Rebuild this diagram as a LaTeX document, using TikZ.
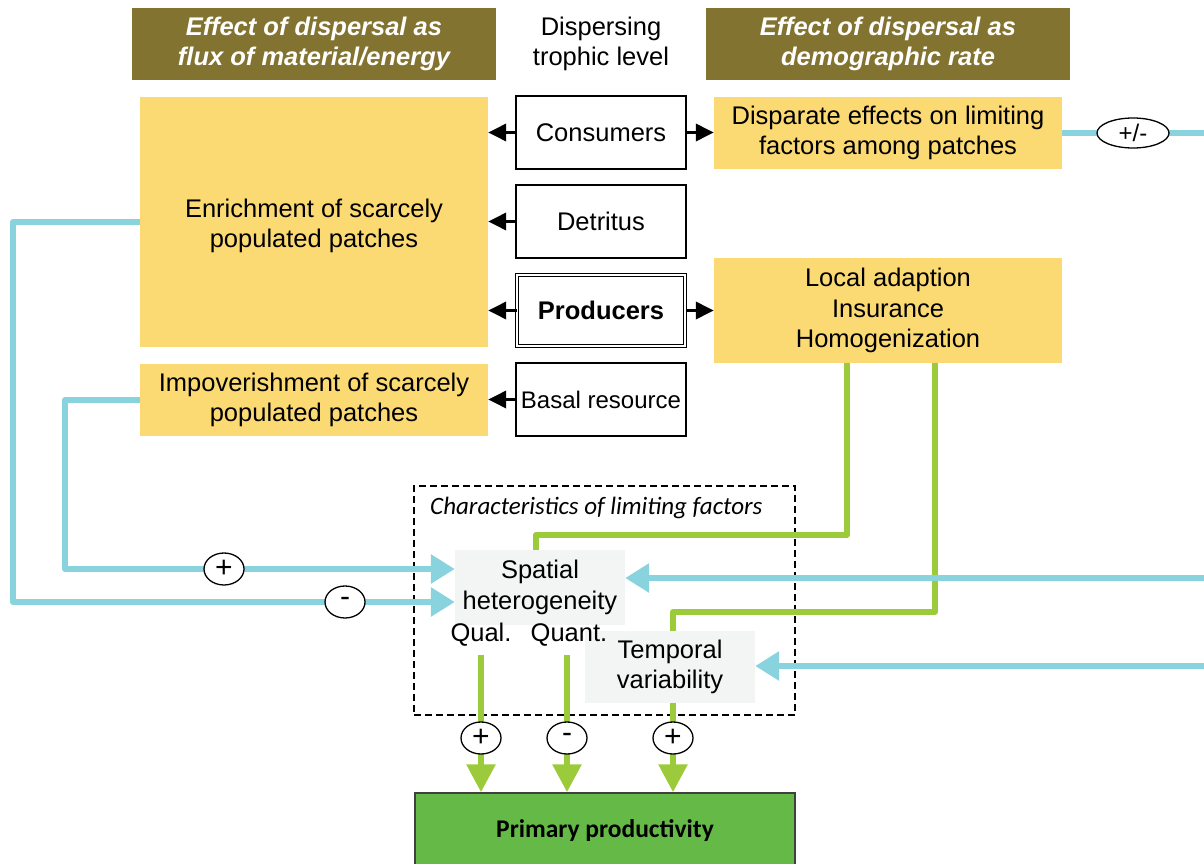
\documentclass[tikz,border=0pt]{standalone}
\usepackage{fontspec}
\setmainfont{Liberation Sans}
\newfontfamily\calib{Carlito}
\usetikzlibrary{arrows.meta,shapes.geometric}
\definecolor{hdrbrown}{RGB}{131,115,48}
\definecolor{yel}{RGB}{251,218,116}
\definecolor{bluel}{RGB}{137,211,223}
\definecolor{greenl}{RGB}{155,203,59}
\definecolor{ppgreen}{RGB}{101,186,71}
\definecolor{grayb}{RGB}{243,245,244}
\begin{document}
\begin{tikzpicture}[x=1pt,y=-1pt,
  every node/.style={font=\fontsize{25.5}{30.5}\selectfont, align=center, inner sep=0pt},
  hdr/.style={fill=hdrbrown, text=white, font=\fontsize{25.5}{30.5}\selectfont\bfseries\itshape, minimum width=364, minimum height=72},
  tbox/.style={draw, line width=2.2pt, fill=white, minimum width=170, minimum height=73},
  ybox/.style={fill=yel, minimum width=348},
  gbox/.style={fill=grayb, minimum width=170},
  barrow/.style={line width=3.5pt, -{Triangle[length=18pt,width=17pt]}},
  bline/.style={draw=bluel, line width=6pt},
  barr/.style={bline, -{Triangle[length=24pt,width=28pt]}, color=bluel},
  gline/.style={draw=greenl, line width=6pt, line join=round},
  garr/.style={gline, -{Triangle[length=28pt,width=28pt]}, color=greenl},
  pm/.style={ellipse, draw, fill=white, line width=1.3pt, minimum width=40, minimum height=32, font=\fontsize{30}{30}\selectfont}
]
\useasboundingbox (0,0) rectangle (1204,864);
\clip (0,0) rectangle (1204,864);

% headers
\node[hdr] (h1) at (314,44) {Effect of dispersal as\\flux of material/energy};
\node (h2) at (601,44) {Dispersing\\trophic level};
\node[hdr] (h3) at (888,44) {Effect of dispersal as\\demographic rate};

% trophic level boxes
\node[tbox] (cons) at (601,132.5) {Consumers};
\node[tbox] (det) at (601,221.5) {Detritus};
\node[draw, fill=white, line width=1pt, double, double distance=2.2pt, minimum width=168, minimum height=71, font=\fontsize{25.5}{30.5}\selectfont\bfseries] (prod) at (601,310.5) {Producers};
\node[tbox, font=\fontsize{24}{30}\selectfont] (basal) at (601,399.5) {Basal resource};

% yellow boxes
\node[ybox, minimum height=250] (enrich) at (314,222) {};
\node at (314,226) {Enrichment of scarcely\\populated patches};
\node[ybox, minimum height=72] (impov) at (314,400) {Impoverishment of scarcely\\populated patches};
\node[ybox, minimum height=72] (disp) at (888,133) {Disparate effects on limiting\\factors among patches};
\node[ybox, minimum height=105] (local) at (888,310.5) {Local adaption\\Insurance\\Homogenization};

% black arrows
\draw[barrow] (cons.west) -- (enrich.east |- cons.west);
\draw[barrow] (det.west) -- (enrich.east |- det.west);
\draw[barrow] (prod.west) -- (enrich.east |- prod.west);
\draw[barrow] (basal.west) -- (impov.east |- basal.west);
\draw[barrow] (cons.east) -- (disp.west |- cons.east);
\draw[barrow] (prod.east) -- (local.west |- prod.east);

% characteristics box
\node[draw, dashed, line width=2pt, dash pattern=on 7pt off 4pt, minimum width=381, minimum height=229] (charbox) at (604.5,600.5) {};
\node[anchor=west, font=\fontsize{25}{28}\selectfont\calib\itshape] (chartitle) at (430,508) {Characteristics of limiting factors};
\node[gbox, minimum height=75] (spatial) at (540,587.5) {Spatial\\heterogeneity};
\node[gbox, minimum height=72] (temporal) at (670,667) {Temporal\\variability};
\node (qual) at (481,635) {Qual.};
\node (quant) at (569,635) {Quant.};

% right-edge coordinates
\coordinate (r1) at (1204,133);
\coordinate (r2) at (1204,578);
\coordinate (r3) at (1204,666);
\coordinate (l1) at (13,222);
\coordinate (l2) at (65,400);

% green lines from local box
\draw[gline] ([xshift=-41pt]local.south) |- ([xshift=-4pt,yshift=15pt]spatial.north) -- ([xshift=-4pt]spatial.north);
\draw[gline] ([xshift=47pt]local.south) |- ([xshift=3pt,yshift=19pt]temporal.north) -- ([xshift=3pt]temporal.north);

% blue lines
\draw[bline] (disp.east) -- (r1);
\node[pm, minimum width=72, minimum height=30, font=\fontsize{24}{26}\selectfont] (e4) at (1133,133) {+/-};
\draw[barr] (r2) -- ([yshift=9.5pt]spatial.east);
\draw[barr] (r3) -- (temporal.east |- r3);
\draw[barr, line join=round] (enrich.west) -- (l1) |- ([yshift=-14.5pt]spatial.west);
\draw[barr, line join=round] (impov.west) -- (l2) |- ([yshift=18.5pt]spatial.west);
\node[pm] (eplus) at (224,569) {+};
\node[pm] (eminus) at (345,602) {-};

% primary productivity
\node[fill=ppgreen, draw=black!75, line width=1.5pt, minimum width=380, minimum height=76, font=\fontsize{25.5}{28}\selectfont\calib\bfseries] (pp) at (605,831) {Primary productivity};

% green arrows to productivity
\coordinate (c1) at (481,738);
\coordinate (c2) at (567,738);
\coordinate (c3) at (673,738);
\draw[gline] (c1 |- 0,655) -- (c1);
\draw[garr] (c1) -- (pp.north -| c1);
\draw[gline] (c2 |- 0,655) -- (c2);
\draw[garr] (c2) -- (pp.north -| c2);
\draw[gline] (c3 |- temporal.south) -- (c3);
\draw[garr] (c3) -- (pp.north -| c3);
\node[pm] (e1) at (c1) {+};
\node[pm] (e2) at (c2) {-};
\node[pm] (e3) at (c3) {+};
\end{tikzpicture}
\end{document}
